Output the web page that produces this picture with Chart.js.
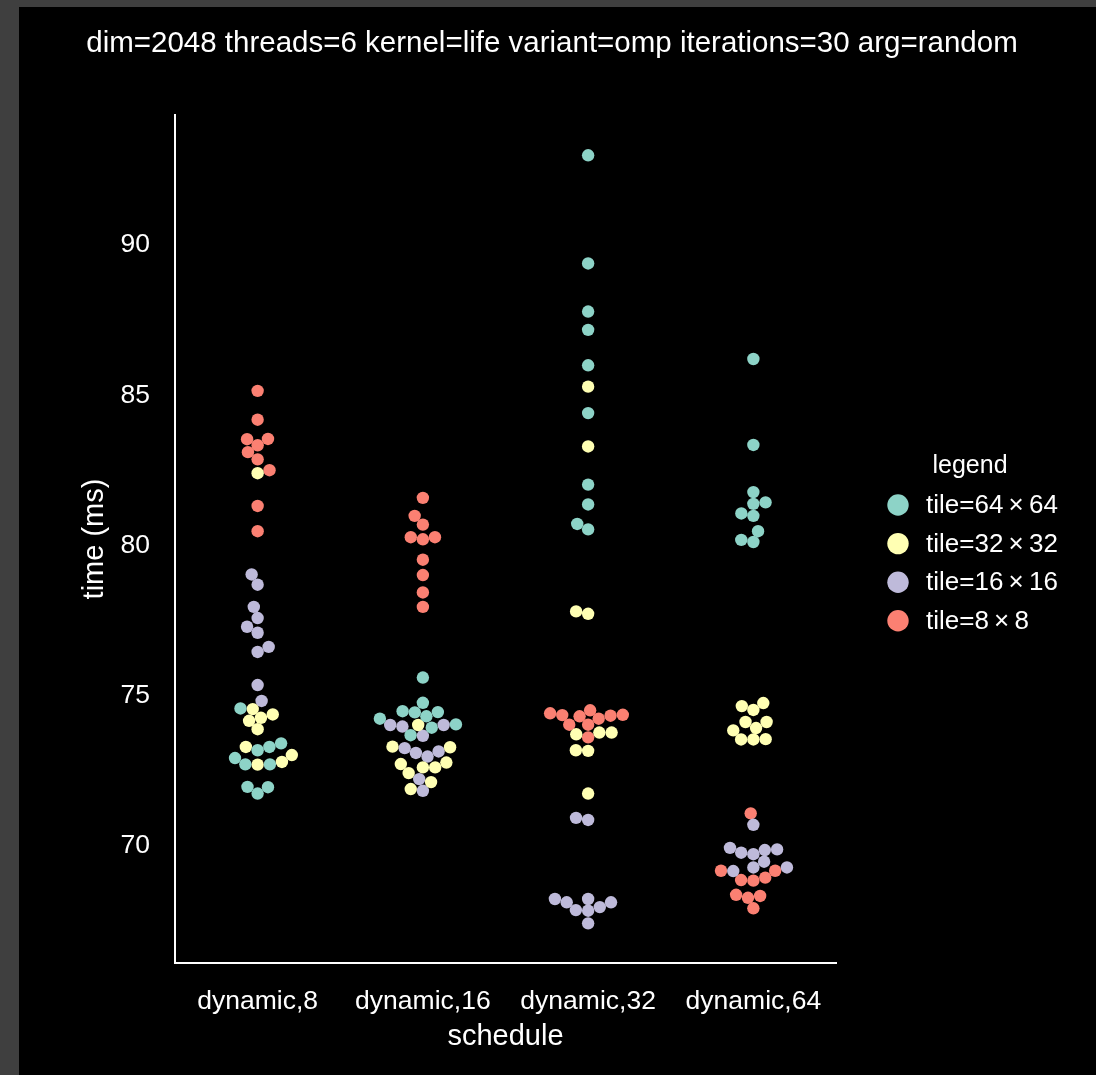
<!DOCTYPE html>
<html>
<head>
<meta charset="utf-8">
<title>life omp schedules</title>
<script src="https://cdn.jsdelivr.net/npm/chart.js@4.4.1/dist/chart.umd.min.js"></script>
<style>
  html, body { margin: 0; padding: 0; }
  body { width: 1096px; height: 1075px; background: #3f3f3f; position: relative; overflow: hidden; }
  #frame { position: absolute; left: 19px; top: 7px; right: 0; bottom: 0; background: #000; }
  #wrap { position: absolute; left: 0; top: 0; width: 1096px; height: 1075px; }
</style>
</head>
<body>
<div id="frame"></div>
<div id="wrap"><canvas id="chart" width="1096" height="1075"></canvas></div>
<script>
// categories on the x axis
const schedules = ['dynamic,8', 'dynamic,16', 'dynamic,32', 'dynamic,64'];
const tiles = ['tile=64\u2009×\u200964', 'tile=32\u2009×\u200932', 'tile=16\u2009×\u200916', 'tile=8\u2009×\u20098'];
const colors = ['#8dd3c7', '#ffffb3', '#bebada', '#fb8072'];
const yTicks = [70, 75, 80, 85, 90];

// time (ms), one row per schedule, 10 runs each
const tile64 = [
  [74.58, 73.42, 73.30, 73.19, 72.93, 72.72, 72.72, 71.97, 71.96, 71.75],
  [75.61, 74.77, 74.49, 74.45, 74.46, 74.32, 74.24, 74.05, 73.94, 73.69],
  [92.99, 89.39, 87.79, 87.18, 86.00, 84.41, 82.03, 81.37, 80.72, 80.54],
  [86.21, 83.35, 81.78, 81.44, 81.39, 81.07, 80.99, 80.48, 80.19, 80.12]
];
const tile32 = [
  [82.41, 74.56, 74.38, 74.27, 74.17, 73.89, 73.30, 73.03, 72.80, 72.71],
  [74.03, 73.31, 73.29, 72.78, 72.73, 72.62, 72.62, 72.43, 72.13, 71.90],
  [85.29, 83.30, 77.81, 77.73, 73.78, 73.78, 73.72, 73.19, 73.17, 71.75],
  [74.76, 74.66, 74.53, 74.13, 74.13, 73.93, 73.85, 73.56, 73.55, 73.55]
];
const tile16 = [
  [79.04, 78.70, 77.96, 77.59, 77.30, 77.10, 76.63, 76.46, 75.36, 74.83],
  [74.03, 74.03, 73.98, 73.67, 73.26, 73.15, 73.10, 72.98, 72.23, 71.84],
  [70.94, 70.87, 68.24, 68.24, 68.13, 68.13, 67.97, 67.87, 67.85, 67.43],
  [70.71, 69.94, 69.89, 69.87, 69.78, 69.73, 69.48, 69.29, 69.29, 69.17]
];
const tile8 = [
  [85.15, 84.19, 83.55, 83.54, 83.34, 83.11, 82.87, 82.51, 81.32, 80.48],
  [81.59, 80.99, 80.70, 80.28, 80.28, 80.21, 79.53, 79.02, 78.44, 77.96],
  [74.52, 74.42, 74.37, 74.36, 74.34, 74.32, 74.24, 74.04, 74.04, 73.62],
  [71.09, 69.18, 69.18, 68.95, 68.87, 68.85, 68.38, 68.34, 68.28, 67.93]
];

const series = [tile64, tile32, tile16, tile8];
const FONT = '"Liberation Sans", Arial, sans-serif';
const POINT_R = 6.2;   // drawn radius
const SWARM_R = 5.85;  // collision radius used for the swarm layout

const datasets = series.map((rows, i) => ({
  label: tiles[i],
  data: rows.flatMap((vals, ci) => vals.map(v => ({ x: ci, y: v, cat: ci }))),
  backgroundColor: colors[i],
  borderWidth: 0,
  pointRadius: POINT_R,
  pointHoverRadius: POINT_R
}));

// beeswarm placement (same idea as seaborn's swarmplot)
function beeswarm(pts, r) {
  const placed = [];
  const mid = pts[0].px;
  pts.forEach((p, k) => {
    if (k === 0) { placed.push({ x: p.px, y: p.py, p }); return; }
    const nb = [];
    for (let j = placed.length - 1; j >= 0; j--) {
      if (p.py - placed[j].y < 2 * r) nb.push(placed[j]); else break;
    }
    const cands = [p.px];
    let leftFirst = true;
    nb.forEach(n => {
      const dy = p.py - n.y;
      const dx = Math.sqrt(Math.max(4 * r * r - dy * dy, 0)) * 1.05;
      if (leftFirst) cands.push(n.x - dx, n.x + dx); else cands.push(n.x + dx, n.x - dx);
      leftFirst = !leftFirst;
    });
    const order = cands.map((x, i) => ({ x, i }))
      .sort((a, b) => (Math.abs(a.x - mid) - Math.abs(b.x - mid)) || (a.i - b.i));
    let chosen = order[0].x;
    for (const c of order) {
      if (nb.every(n => (n.x - c.x) ** 2 + (n.y - p.py) ** 2 >= 4 * r * r)) { chosen = c.x; break; }
    }
    placed.push({ x: chosen, y: p.py, p });
  });
  return placed;
}

function applySwarm(chart) {
  const xs = chart.scales.x, ys = chart.scales.y;
  const pxPerX = xs.getPixelForValue(1) - xs.getPixelForValue(0);
  schedules.forEach((_, ci) => {
    const cx = xs.getPixelForValue(ci);
    const pts = [];
    chart.data.datasets.forEach(ds => ds.data.forEach(pt => {
      if (pt.cat === ci) pts.push({ pt, px: cx, py: -ys.getPixelForValue(pt.y) });
    }));
    pts.sort((a, b) => a.py - b.py);
    beeswarm(pts, SWARM_R).forEach(s => { s.p.pt.x = ci + (s.x - cx) / pxPerX; });
  });
  chart.update('none');
}

// legend drawn to the right of the plot
const sideLegend = {
  id: 'sideLegend',
  afterDraw(chart) {
    const { ctx, chartArea: a } = chart;
    ctx.save();
    ctx.fillStyle = '#ffffff';
    ctx.textBaseline = 'alphabetic';
    ctx.font = '25px ' + FONT;
    ctx.textAlign = 'center';
    ctx.fillText('legend', a.right + 134, a.top + 358);
    ctx.font = '26px ' + FONT;
    ctx.textAlign = 'left';
    chart.data.datasets.forEach((ds, i) => {
      const cy = a.top + 390 + i * 38.6;
      ctx.beginPath();
      ctx.arc(a.right + 62, cy, 10.7, 0, Math.PI * 2);
      ctx.fillStyle = ds.backgroundColor;
      ctx.fill();
      ctx.fillStyle = '#ffffff';
      ctx.fillText(ds.label, a.right + 90, cy + 8);
    });
    ctx.restore();
  }
};

const chart = new Chart(document.getElementById('chart'), {
  type: 'scatter',
  data: { datasets },
  options: {
    responsive: false,
    animation: false,
    layout: { padding: { left: 8, right: 0, top: 0, bottom: 0 } },
    plugins: {
      legend: { display: false },
      tooltip: { enabled: false },
      title: {
        display: true,
        text: 'dim=2048 threads=6 kernel=life variant=omp iterations=30 arg=random',
        color: '#ffffff',
        font: { family: FONT, size: 29.5, weight: 'normal' },
        padding: { top: 26, bottom: 53.6 }
      }
    },
    scales: {
      x: {
        type: 'linear',
        min: -0.5,
        max: 3.5,
        afterBuildTicks: s => { s.ticks = schedules.map((_, i) => ({ value: i })); },
        afterFit: s => { s.height = 112; },
        grid: { display: false, drawTicks: false },
        border: { display: true, color: '#ffffff', width: 2 },
        ticks: {
          color: '#ffffff',
          font: { family: FONT, size: 26.5 },
          padding: 23,
          maxRotation: 0,
          callback: v => schedules[v]
        },
        title: {
          display: true,
          text: 'schedule',
          color: '#ffffff',
          font: { family: FONT, size: 29 },
          padding: { top: 0, bottom: 20.6 }
        }
      },
      y: {
        min: 66.11,
        max: 94.33,
        afterBuildTicks: s => { s.ticks = yTicks.map(v => ({ value: v })); },
        afterFit: s => { s.width = 167; },
        grid: { display: false, drawTicks: false },
        border: { display: true, color: '#ffffff', width: 2 },
        ticks: {
          color: '#ffffff',
          font: { family: FONT, size: 26.5 },
          padding: 25
        },
        title: {
          display: true,
          text: 'time (ms)',
          color: '#ffffff',
          font: { family: FONT, size: 29 },
          padding: { top: 69.6, bottom: 0 }
        }
      },
      // empty scale that only reserves room for the legend on the right
      side: {
        type: 'linear',
        position: 'right',
        display: true,
        afterFit: s => { s.width = 260; },
        grid: { display: false, drawTicks: false },
        border: { display: false },
        ticks: { display: false }
      }
    }
  },
  plugins: [sideLegend]
});

applySwarm(chart);
</script>
</body>
</html>
